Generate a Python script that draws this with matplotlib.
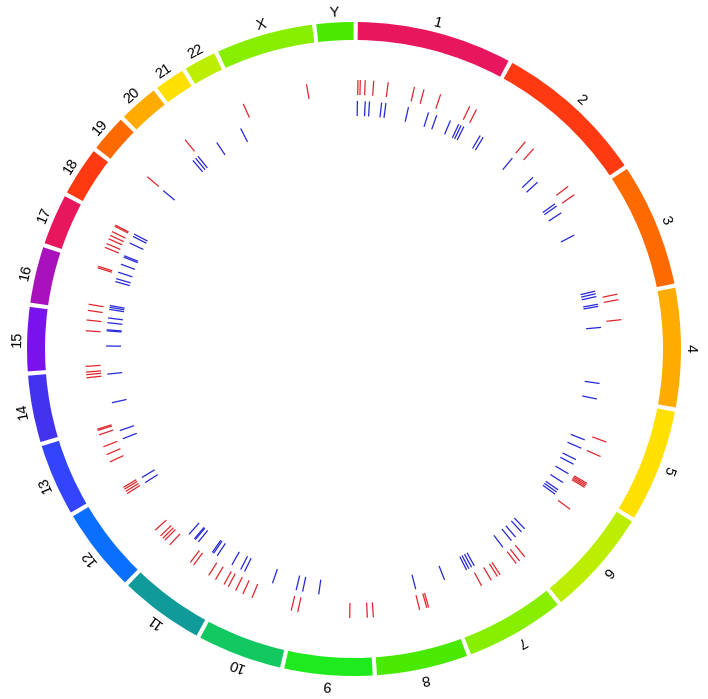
import numpy as np
import matplotlib.pyplot as plt

# chromosome ring: names, sizes in Mb (hg19), colours
chrom_names = ['1', '2', '3', '4', '5', '6', '7', '8', '9', '10', '11', '12',
               '13', '14', '15', '16', '17', '18', '19', '20', '21', '22', 'X', 'Y']
chrom_sizes = [249.25, 243.2, 198.0, 191.15, 180.9, 171.1, 159.1, 146.4, 141.2,
               135.5, 135.0, 133.9, 115.2, 107.3, 102.5, 90.4, 81.2, 78.1, 59.1,
               63.0, 48.1, 51.3, 155.3, 59.4]
chrom_colors = ['#e8175d', '#ff3a12', '#ff6a00', '#ffab00', '#ffe000', '#bbee00',
                '#88ee00', '#4aea00', '#1eea1e', '#12c860', '#109a9a', '#0a6eff',
                '#3344ff', '#4433ee', '#7a12ee', '#a811bb',
                '#e8175d', '#ff3a12', '#ff6a00', '#ffab00', '#ffe000', '#bbee00',
                '#88ee00', '#4aea00']

# outer track (red): chromosome, position in Mb
red_chrom = (['1'] * 10 + ['2'] * 4 + ['3'] + ['4'] * 2 + ['5'] * 6 + ['6'] * 2
             + ['7'] * 6 + ['8'] * 4 + ['9'] * 3 + ['10'] * 5 + ['11'] * 6
             + ['12'] * 8 + ['13'] * 6 + ['14'] * 3 + ['15'] * 3 + ['16'] * 4
             + ['17'] * 7 + ['19', '20', 'X', 'X'])
red_pos = [1.5, 6, 15.6, 32, 60, 111.5, 130.5, 164, 224.6, 239,
           96, 117, 215.7, 235.6,
           196,
           2, 41,
           83, 113, 171, 174, 177, 180,
           43, 170,
           5, 13, 51, 57, 71, 92.6,
           37, 40.7, 55, 145.5,
           4, 38, 139,
           3.9, 83.5, 102.5, 118, 134,
           1, 20, 35.4, 70.7, 78.8, 131,
           2.2, 7.6, 14, 29, 118, 123, 128, 132,
           47, 62.4, 78.7, 103.2, 112, 114.5,
           94, 100, 105,
           2, 70.8, 91.6,
           1, 13, 85.4, 88.5,
           30, 38, 48, 55.3, 63.4, 75, 77.5,
           16.4, 52.8, 2, 130]

# inner track (blue)
blue_chrom = (['1'] * 12 + ['2'] * 7 + ['3'] * 5 + ['4'] * 4 + ['5'] * 6
              + ['6'] * 8 + ['7'] * 6 + ['8'] + ['9'] * 2 + ['10'] * 4
              + ['11'] * 8 + ['12'] * 2 + ['13'] * 2 + ['14'] * 2 + ['15'] * 5
              + ['16'] * 6 + ['17'] * 6 + ['19'] + ['20'] * 3 + ['21', '22'])
blue_pos = [1, 17.4, 26.4, 51.8, 60.8, 108.8, 152.2, 170.3, 201, 220, 225.5, 231.8,
            14.8, 22, 97, 156, 170, 228, 233.8,
            1, 55, 180.4, 186, 192,
            3.6, 8.1, 52.5, 170,
            5, 94.3, 113.3, 139.6, 150.4, 173,
            7, 25.3, 30.8, 36.2, 133, 142.3, 158.6, 170,
            14.8, 86.2, 92.6, 98.9, 104.4, 155,
            52.5,
            103.9, 138,
            3.9, 55.5, 118.8, 127.9,
            6.4, 42.6, 51.7, 55, 91.5, 99.6, 102, 116.8,
            117.1, 129.8,
            79.6, 97.7,
            36.4, 97,
            41.8, 73.5, 75.8, 90.7, 100.7,
            9.6, 14, 17.7, 69.1, 75.5, 89.5,
            10, 26, 29, 58, 73.4, 78.8,
            15.5,
            38.3, 45.5, 51.9,
            31, 34]

gap = 0.75     # degrees between chromosomes
offset = 0.3
scale = (360 - gap * len(chrom_sizes)) / sum(chrom_sizes)   # degrees per Mb
starts = (offset + gap / 2 + gap * np.arange(len(chrom_sizes))
          + np.concatenate([[0], np.cumsum(chrom_sizes)[:-1]]) * scale)


def to_theta(chrom, pos):
    i = [chrom_names.index(c) for c in chrom]
    return np.radians(starts[i] + np.array(pos) * scale)


fig = plt.figure(figsize=(7.08, 6.99), dpi=100)
ax = fig.add_axes([9 / 708, 5 / 699, 690 / 708, 690 / 699], projection='polar')
ax.set_theta_zero_location('N')
ax.set_theta_direction(-1)
ax.set_ylim(0, 345)
ax.axis('off')

# ring
sizes = np.array(chrom_sizes)
mids = np.radians(starts + sizes * scale / 2)
ax.bar(mids, 18, width=np.radians(sizes * scale), bottom=309,
       color=chrom_colors, edgecolor='none', align='center')

for name, th in zip(chrom_names, mids):
    deg = np.degrees(th)
    ax.text(th, 337, name, rotation=-deg, rotation_mode='anchor',
            ha='center', va='center', fontsize=10.5, family='Liberation Sans')

# tracks
ax.vlines(to_theta(red_chrom, red_pos), 254, 269, colors='#e0262c', lw=0.9)
ax.vlines(to_theta(blue_chrom, blue_pos), 233, 248, colors='#2626d8', lw=0.9)

fig.savefig('out.png', dpi=100)
